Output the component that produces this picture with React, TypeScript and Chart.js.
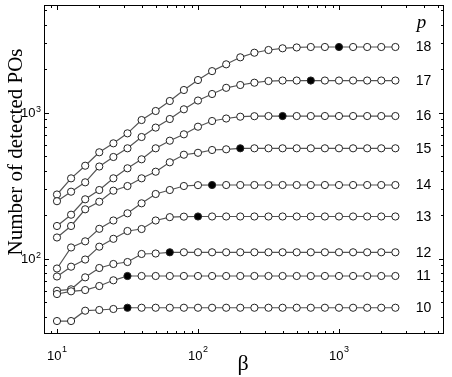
import React, { useEffect, useRef } from 'react';
import { Chart, registerables } from 'chart.js';

Chart.register(...registerables);

// β values (10 points per decade)
const betaValues = [10, 12.59, 15.85, 19.95, 25.12, 31.62, 39.81, 50.12, 63.1, 79.43, 100, 125.9, 158.5, 199.5, 251.2, 316.2, 398.1, 501.2, 631, 794.3, 1000, 1259, 1585, 1995, 2512];

const seriesLabels = ['10', '11', '12', '13', '14', '15', '16', '17', '18'];

const p10 = [37.3, 37.3, 43.9, 44.4, 45.1, 46, 46, 46, 46, 46, 46, 46, 46, 46, 46, 46, 46, 46, 46, 46, 46, 46, 46, 46, 46];
const p11 = [57.1, 59.6, 60.8, 64.8, 70.9, 75.9, 75.9, 75.9, 75.9, 75.9, 75.9, 75.9, 75.9, 75.9, 75.9, 75.9, 75.9, 75.9, 75.9, 75.9, 75.9, 75.9, 75.9, 75.9, 75.9];
const p12 = [60.2, 61.5, 74.3, 86.1, 91.7, 94.6, 107.4, 108.2, 110.3, 110.3, 110.3, 110.3, 110.3, 110.3, 110.3, 110.3, 110.3, 110.3, 110.3, 110.3, 110.3, 110.3, 110.3, 110.3, 110.3];
const p13 = [75.3, 87.9, 98.4, 120.5, 136.4, 154.3, 159.2, 182.1, 192, 193.5, 194, 194, 194, 194, 194, 194, 194, 194, 194, 194, 194, 194, 194, 194, 194];
const p14 = [85.4, 119, 131.1, 159.7, 182.1, 204, 238.8, 276.6, 294.5, 313.7, 318, 318.7, 318.7, 318.7, 318.7, 318.7, 318.7, 318.7, 318.7, 318.7, 318.7, 318.7, 318.7, 318.7, 318.7];
const p15 = [139.3, 167, 217.3, 244.9, 291.3, 313.7, 354.2, 393.1, 456, 514, 529.7, 553.6, 559.7, 568.6, 568.6, 568.6, 568.6, 568.6, 568.6, 568.6, 568.6, 568.6, 568.6, 568.6, 568.6];
const p16 = [167, 199.5, 254.4, 294.5, 354.2, 414.8, 478.1, 568.6, 641, 708.9, 799.5, 874.5, 909.6, 936, 943.4, 946, 946, 946, 946, 946, 946, 946, 946, 946, 946];
const p17 = [246.9, 286.8, 332.5, 426.7, 495.8, 568.6, 679.5, 788.3, 902.4, 1052, 1208, 1339, 1476, 1543, 1600, 1643, 1656, 1656, 1656, 1656, 1656, 1656, 1656, 1656, 1656];
const p18 = [274.4, 354, 432, 534, 615, 720, 888, 1024, 1199, 1426, 1669, 1921, 2138, 2388, 2568, 2680, 2753, 2790, 2810, 2810, 2810, 2810, 2810, 2810, 2810];

const seriesValues = [p10, p11, p12, p13, p14, p15, p16, p17, p18];
// index of the filled (converged) point in each series
const filledIndex = [5, 5, 8, 10, 11, 13, 16, 18, 20];

const xTickValues = [10, 100, 1000];
const xTickExponents = ['1', '2', '3'];
const yTickValues = [100, 1000];
const yTickExponents = ['2', '3'];

const xTitle = 'β';
const yTitle = 'Number of detected POs';
const legendTitle = 'p';

const SANS = '"Liberation Sans", Arial, Helvetica, sans-serif';
const SERIF = '"Liberation Serif", "Times New Roman", serif';

const decorPlugin = {
  id: 'decor',
  afterDraw(chart: any) {
    const { ctx, chartArea: a, scales } = chart;
    const x = scales.x;
    const y = scales.y;
    ctx.save();
    ctx.strokeStyle = '#000';
    ctx.lineWidth = 1;
    ctx.strokeRect(a.left + 0.5, a.top + 0.5, a.right - a.left - 1, a.bottom - a.top - 1);

    // inward ticks
    ctx.beginPath();
    for (let e = 0; e <= 4; e++) {
      for (let m = 1; m <= 9; m++) {
        const v = m * Math.pow(10, e);
        const len = m === 1 ? 5 : 3;
        if (v >= x.min && v <= x.max) {
          const px = Math.round(x.getPixelForValue(v)) + 0.5;
          ctx.moveTo(px, a.bottom);
          ctx.lineTo(px, a.bottom - len);
          ctx.moveTo(px, a.top);
          ctx.lineTo(px, a.top + len);
        }
        if (v >= y.min && v <= y.max) {
          const py = Math.round(y.getPixelForValue(v)) + 0.5;
          ctx.moveTo(a.left, py);
          ctx.lineTo(a.left + len, py);
          ctx.moveTo(a.right, py);
          ctx.lineTo(a.right - len, py);
        }
      }
    }
    ctx.stroke();

    // tick labels
    ctx.fillStyle = '#000';
    ctx.textBaseline = 'alphabetic';
    const mainFont = `13px ${SANS}`;
    const expFont = `9px ${SANS}`;
    xTickValues.forEach((v, i) => {
      const px = x.getPixelForValue(v);
      ctx.font = mainFont;
      const w10 = ctx.measureText('10').width;
      ctx.font = expFont;
      const we = ctx.measureText(xTickExponents[i]).width;
      const start = px - (w10 + we + 0.5) / 2;
      ctx.font = mainFont;
      ctx.textAlign = 'left';
      ctx.fillText('10', start, 360);
      ctx.font = expFont;
      ctx.fillText(xTickExponents[i], start + w10 + 0.5, 352);
    });
    yTickValues.forEach((v, i) => {
      const py = y.getPixelForValue(v);
      ctx.font = expFont;
      const we = ctx.measureText(yTickExponents[i]).width;
      ctx.textAlign = 'right';
      ctx.fillText(yTickExponents[i], 41, py - 1);
      ctx.font = mainFont;
      ctx.fillText('10', 41 - we - 0.5, py + 4.5);
    });

    // axis titles
    ctx.textAlign = 'center';
    ctx.font = `22px ${SERIF}`;
    ctx.fillText(xTitle, 243, 370);
    ctx.save();
    ctx.translate(16, 152);
    ctx.rotate(-Math.PI / 2);
    ctx.font = `21px ${SERIF}`;
    ctx.textBaseline = 'middle';
    ctx.fillText(yTitle, 0, 0);
    ctx.restore();

    // right-side series labels
    ctx.font = `italic 19px ${SERIF}`;
    ctx.textBaseline = 'alphabetic';
    ctx.fillText(legendTitle, 421.5, 28);
    ctx.font = `14px ${SANS}`;
    ctx.textBaseline = 'middle';
    seriesValues.forEach((s, i) => {
      const py = y.getPixelForValue(s[s.length - 1]);
      ctx.fillText(seriesLabels[i], 423.5, py + 0.5);
    });
    ctx.restore();
  },
};

export default function App() {
  const ref = useRef<HTMLCanvasElement | null>(null);
  useEffect(() => {
    if (!ref.current) return;
    const datasets = seriesValues.map((s, si) => ({
      label: 'p=' + seriesLabels[si],
      data: betaValues.map((b, i) => ({ x: b, y: s[i] })),
      borderColor: '#555',
      borderWidth: 1.2,
      pointRadius: 3.6,
      pointBorderWidth: 1,
      pointBorderColor: '#222',
      pointBackgroundColor: betaValues.map((_, i) => (i === filledIndex[si] ? '#000' : '#fff')),
      tension: 0,
      fill: false,
    }));
    const chart = new Chart(ref.current, {
      type: 'line',
      data: { datasets },
      options: {
        animation: false,
        responsive: false,
        devicePixelRatio: 1,
        layout: { padding: { top: 5, right: 8, left: 0, bottom: 0 } },
        plugins: { legend: { display: false }, tooltip: { enabled: false } },
        scales: {
          x: {
            type: 'logarithmic',
            position: 'bottom',
            min: 8.09,
            max: 5556,
            ticks: { display: false },
            grid: { display: false },
            border: { display: false },
            afterFit: (s: any) => { s.height = 43; },
          },
          y: {
            type: 'logarithmic',
            position: 'left',
            min: 30.4,
            max: 5450,
            ticks: { display: false },
            grid: { display: false },
            border: { display: false },
            afterFit: (s: any) => { s.width = 44; },
          },
        },
      } as any,
      plugins: [decorPlugin],
    });
    return () => chart.destroy();
  }, []);
  return (
    <div style={{ position: 'fixed', left: 0, top: 0, width: 452, height: 377, background: '#fff' }}>
      <canvas ref={ref} width={452} height={377} style={{ display: 'block' }} />
    </div>
  );
}
